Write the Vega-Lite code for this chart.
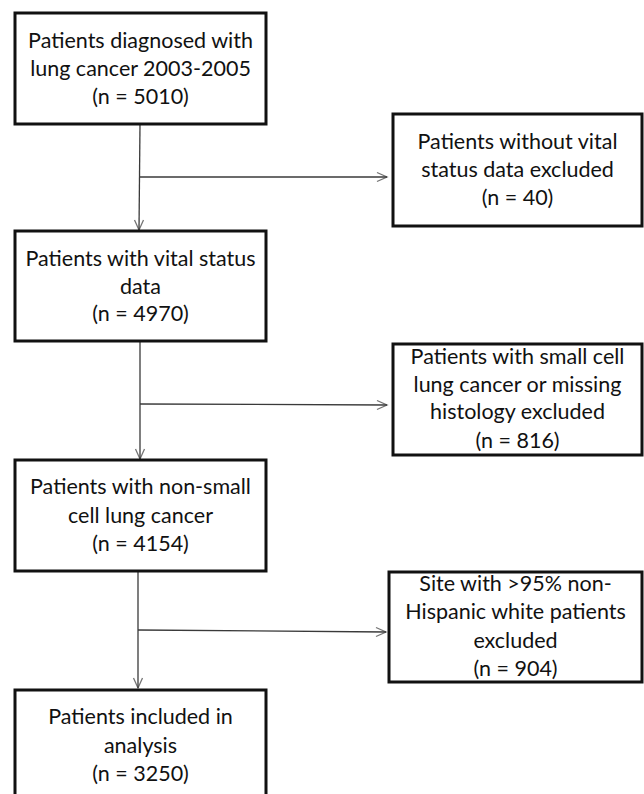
{
  "$schema": "https://vega.github.io/schema/vega-lite/v6.json",
  "width": 644,
  "height": 794,
  "padding": 0,
  "autosize": {"type": "none"},
  "background": "white",
  "config": {"view": {"stroke": null}},
  "datasets": {
    "boxes": [
      {"id": "b1", "x": 15, "x2": 266, "y": 13, "y2": 124},
      {"id": "b2", "x": 393, "x2": 642, "y": 114, "y2": 226},
      {"id": "b3", "x": 15, "x2": 266, "y": 231, "y2": 341},
      {"id": "b4", "x": 393, "x2": 642, "y": 344, "y2": 455},
      {"id": "b5", "x": 15, "x2": 266, "y": 460, "y2": 571},
      {"id": "b6", "x": 389, "x2": 642, "y": 572, "y2": 682},
      {"id": "b7", "x": 15, "x2": 266, "y": 690, "y2": 810}
    ],
    "labels": [
      {"text": "Patients diagnosed with", "x": 140.5, "y": 42},
      {"text": "lung cancer 2003-2005", "x": 140.5, "y": 70},
      {"text": "(n = 5010)", "x": 140.5, "y": 98},
      {"text": "Patients without vital", "x": 517.5, "y": 143},
      {"text": "status data excluded", "x": 517.5, "y": 171},
      {"text": "(n = 40)", "x": 517.5, "y": 199},
      {"text": "Patients with vital status", "x": 140.5, "y": 260},
      {"text": "data", "x": 140.5, "y": 288},
      {"text": "(n = 4970)", "x": 140.5, "y": 315},
      {"text": "Patients with small cell", "x": 517.5, "y": 358},
      {"text": "lung cancer or missing", "x": 517.5, "y": 386},
      {"text": "histology excluded", "x": 517.5, "y": 413},
      {"text": "(n = 816)", "x": 517.5, "y": 442},
      {"text": "Patients with non-small", "x": 140.5, "y": 488},
      {"text": "cell lung cancer", "x": 140.5, "y": 517},
      {"text": "(n = 4154)", "x": 140.5, "y": 545},
      {"text": "Site with >95% non-", "x": 515.5, "y": 585},
      {"text": "Hispanic white patients", "x": 515.5, "y": 613},
      {"text": "excluded", "x": 515.5, "y": 642},
      {"text": "(n = 904)", "x": 515.5, "y": 670},
      {"text": "Patients included in", "x": 140.5, "y": 718},
      {"text": "analysis", "x": 140.5, "y": 747},
      {"text": "(n = 3250)", "x": 140.5, "y": 775}
    ],
    "connectors": [
      {"x": 140, "x2": 139, "y": 124, "y2": 230},
      {"x": 140, "x2": 387, "y": 177, "y2": 177},
      {"x": 140, "x2": 140, "y": 341, "y2": 459},
      {"x": 140, "x2": 387, "y": 404, "y2": 405},
      {"x": 138, "x2": 138, "y": 571, "y2": 688},
      {"x": 138, "x2": 386, "y": 630, "y2": 632}
    ],
    "arrows": [
      {"x": 139, "y": 230, "dir": "down"},
      {"x": 387, "y": 177, "dir": "right"},
      {"x": 140, "y": 459, "dir": "down"},
      {"x": 387, "y": 405, "dir": "right"},
      {"x": 138, "y": 688, "dir": "down"},
      {"x": 386, "y": 632, "dir": "right"}
    ]
  },
  "layer": [
    {
      "data": {"name": "connectors"},
      "mark": {"type": "rule", "color": "#3a3a3a", "strokeWidth": 1.3},
      "encoding": {
        "x": {"field": "x", "type": "quantitative", "scale": {"domain": [0, 644], "nice": false, "zero": false}, "axis": null},
        "x2": {"field": "x2"},
        "y": {"field": "y", "type": "quantitative", "scale": {"domain": [0, 794], "nice": false, "zero": false, "reverse": true}, "axis": null},
        "y2": {"field": "y2"}
      }
    },
    {
      "data": {"name": "arrows"},
      "mark": {"type": "point", "filled": false, "stroke": "#3a3a3a", "strokeWidth": 1.3, "size": 400},
      "encoding": {
        "x": {"field": "x", "type": "quantitative", "axis": null},
        "y": {"field": "y", "type": "quantitative", "axis": null},
        "shape": {"field": "dir", "type": "nominal", "legend": null,
          "scale": {"domain": ["down", "right"], "range": ["M-0.45,-1L0,0L0.45,-1", "M-1,-0.45L0,0L-1,0.45"]}}
      }
    },
    {
      "data": {"name": "boxes"},
      "mark": {"type": "rect", "fill": "white", "stroke": "#111111", "strokeWidth": 3, "clip": true},
      "encoding": {
        "x": {"field": "x", "type": "quantitative", "axis": null},
        "x2": {"field": "x2"},
        "y": {"field": "y", "type": "quantitative", "axis": null},
        "y2": {"field": "y2"}
      }
    },
    {
      "data": {"name": "labels"},
      "mark": {"type": "text", "font": "Lato", "fontSize": 21.5, "color": "#111111", "align": "center", "baseline": "middle"},
      "encoding": {
        "x": {"field": "x", "type": "quantitative", "axis": null},
        "y": {"field": "y", "type": "quantitative", "axis": null},
        "text": {"field": "text", "type": "nominal"}
      }
    }
  ]
}
